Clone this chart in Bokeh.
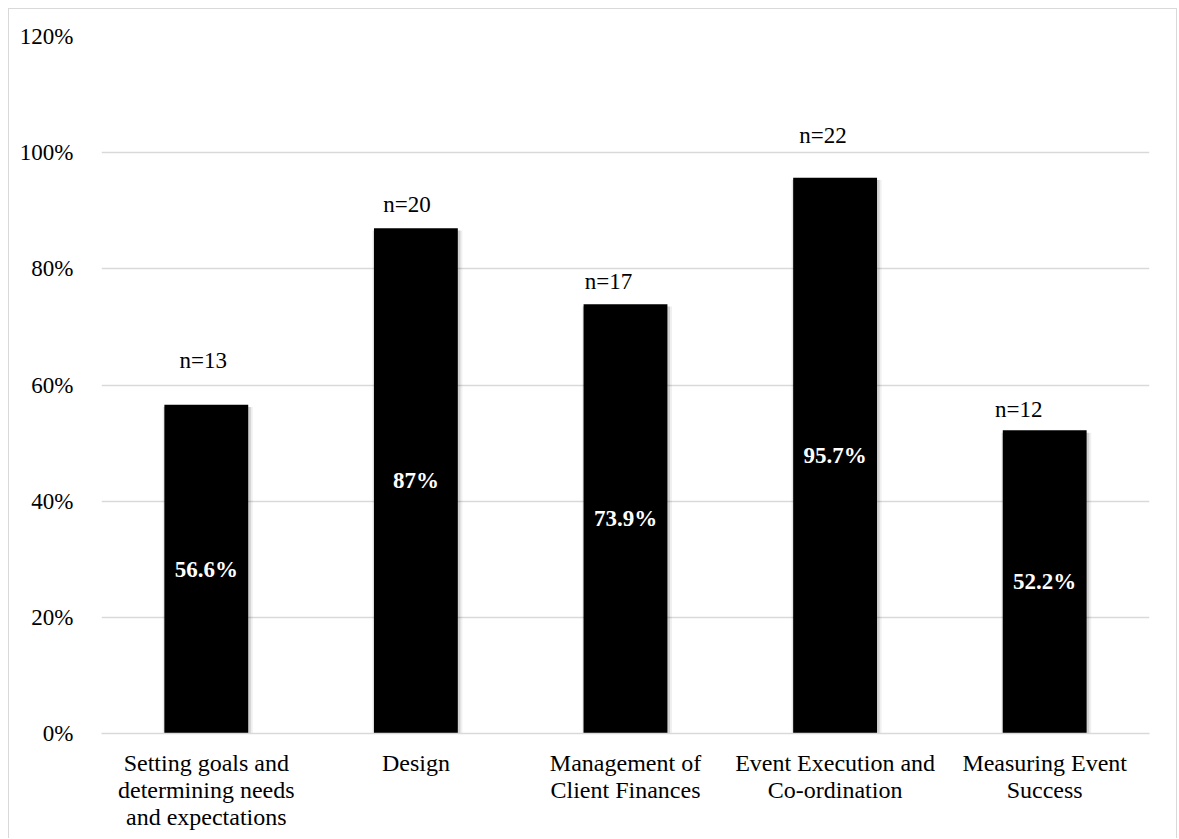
from bokeh.plotting import figure
from bokeh.models import ColumnDataSource, FactorRange, FixedTicker, NumeralTickFormatter, Range1d
from bokeh.transform import dodge
from bokeh.core.properties import value
from bokeh.embed import file_html
from bokeh.resources import INLINE

# ---- data ----
categories = [
    "Setting goals and\ndetermining needs\nand expectations",
    "Design",
    "Management of\nClient Finances",
    "Event Execution and\nCo-ordination",
    "Measuring Event\nSuccess",
]
percent = [56.6, 87.0, 73.9, 95.7, 52.2]
value_labels = ["56.6%", "87%", "73.9%", "95.7%", "52.2%"]
n_values = [13, 20, 17, 22, 12]
y_ticks = [0, 0.2, 0.4, 0.6, 0.8, 1.0, 1.2]

# ---- styling (label nudges in screen pixels) ----
n_label_dx = [-3, -9, -17, -12, -26]
n_label_dy = [44, 24, 23, 42, 21]
FONT = "Liberation Serif"
GRID = "#d9d9d9"

frac = [v / 100.0 for v in percent]
src = ColumnDataSource(dict(
    cat=categories,
    top=frac,
    mid=[f / 2 for f in frac],
    shadow_top=[f - 0.004 for f in frac],
    vlab=value_labels,
    nlab=["n=%d" % n for n in n_values],
    dx=n_label_dx,
    dy=[-d for d in n_label_dy],
))

p = figure(
    x_range=FactorRange(*categories, range_padding=0),
    y_range=Range1d(0, 1.2),
    width=1169, height=830,
    output_backend="svg", toolbar_location=None,
    min_border_left=92, min_border_right=29, min_border_top=27, min_border_bottom=106,
)
p.styles = {"margin-left": "8px", "margin-top": "8px",
            "border-left": "1px solid #d9d9d9", "border-top": "1px solid #d9d9d9",
            "border-right": "1px solid #d9d9d9"}
p.outline_line_color = None
p.background_fill_color = "white"
p.border_fill_color = "white"

# grid
p.xgrid.grid_line_color = None
p.ygrid.grid_line_color = GRID
p.ygrid.grid_line_width = 1.4
p.yaxis.ticker = FixedTicker(ticks=y_ticks)
p.yaxis.formatter = NumeralTickFormatter(format="0%")

# axes
for ax in (p.xaxis, p.yaxis):
    ax.major_tick_line_color = None
    ax.minor_tick_line_color = None
    ax.major_label_text_font = FONT
    ax.major_label_text_color = "black"
p.yaxis.major_label_text_font_size = "23px"
p.xaxis.major_label_text_font_size = "24px"
p.yaxis.axis_line_color = None
p.yaxis.major_label_standoff = 22
p.xaxis.axis_line_color = GRID
p.xaxis.axis_line_width = 1.6
p.xaxis.major_label_standoff = 10
p.xaxis.major_label_text_line_height = 1.05
p.xaxis.group_text_font_size = "0px"

# soft shadow behind bars
p.vbar(x=dodge("cat", 0.007, range=p.x_range), top="shadow_top", width=0.43, source=src,
       fill_color="black", fill_alpha=0.06, line_color=None)
p.vbar(x=dodge("cat", 0.005, range=p.x_range), top="shadow_top", width=0.415, source=src,
       fill_color="black", fill_alpha=0.12, line_color=None)
# bars
p.vbar(x="cat", top="top", width=0.4, source=src, fill_color="black", line_color=None)

# value labels inside bars
p.text(x="cat", y="mid", text="vlab", source=src, text_color="white",
       text_font=value(FONT), text_font_size="23px", text_font_style="bold",
       text_align="center", text_baseline="middle")
# n labels above bars
p.text(x="cat", y="top", text="nlab", source=src, text_color="black",
       x_offset="dx", y_offset="dy",
       text_font=value(FONT), text_font_size="23px",
       text_align="center", text_baseline="middle")

open("out.html", "w").write(file_html(p, INLINE))
